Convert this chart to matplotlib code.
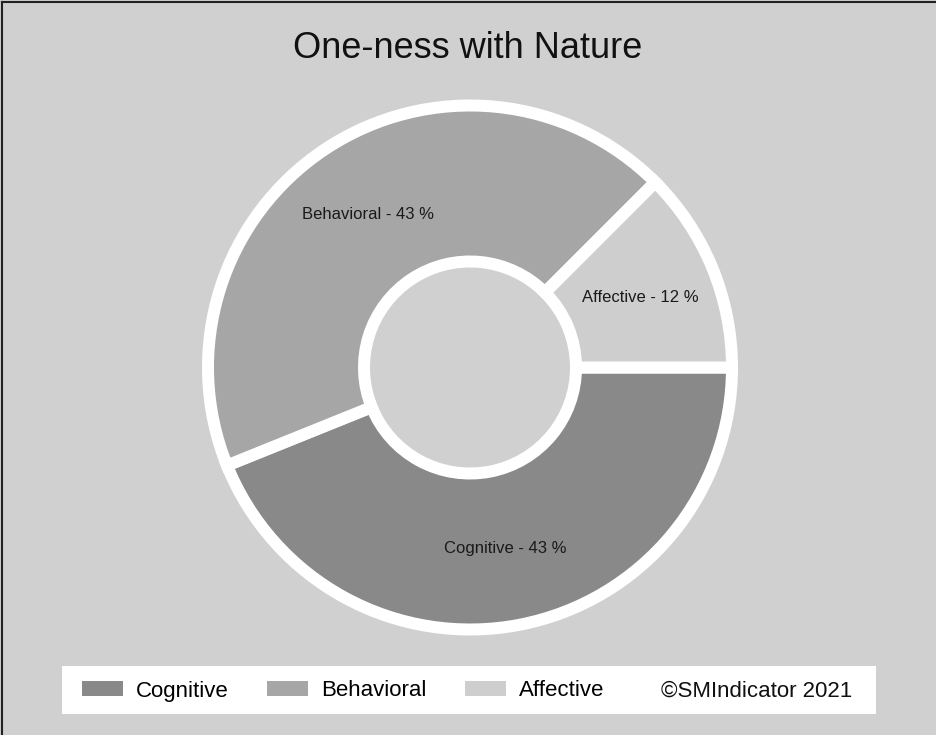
import numpy as np
import matplotlib
matplotlib.use("Agg")
import matplotlib.pyplot as plt
from matplotlib.patches import Patch, Rectangle
from matplotlib.lines import Line2D

plt.rcParams['font.family'] = ['Liberation Sans', 'DejaVu Sans']

# data
categories = ["Cognitive", "Behavioral", "Affective"]
shares = [43.9, 43.6, 12.5]
colors = ["#898989", "#a6a6a6", "#cecece"]
title = "One-ness with Nature"
credit = "\u00a9SMIndicator 2021"

BG = "#d0d0d0"
W, H = 936, 735
DPI = 100

fig = plt.figure(figsize=(W / DPI, H / DPI), dpi=DPI, facecolor=BG)

# axes in pixel-like units so the ring sits where it should
ax = fig.add_axes([0, 0, 1, 1])
ax.set_facecolor(BG)

cx, cy = 470, H - 367.5
R = 262
ring = 156
px = 72.0 / DPI  # points per pixel

labels = [f"{c} - {int(s)} %" for c, s in zip(categories, shares)]
wedges, texts = ax.pie(shares, colors=colors, labels=labels,
                       startangle=0, counterclock=False,
                       center=(cx, cy), radius=R,
                       labeldistance=(R - ring / 2) / R,
                       wedgeprops=dict(width=ring, edgecolor="white", linewidth=12 * px),
                       textprops=dict(fontsize=12, color="#1a1a1a"))
for t in texts:
    t.set_ha("center")
    t.set_va("center")

ax.set_xlim(0, W)
ax.set_ylim(0, H)
ax.set_aspect("equal")
ax.axis("off")

fig.text(468 / W, 1 - 48 / H, title, ha="center", va="center", fontsize=26, color="#111111")

# legend strip
fig.patches.append(Rectangle((62 / W, 21 / H), 814 / W, 48 / H, transform=fig.transFigure,
                             facecolor="white", edgecolor="none", zorder=1))
handles = [Patch(facecolor=c, edgecolor="none") for c in colors]
leg = fig.legend(handles, categories, loc="center left", bbox_to_anchor=(82 / W, 44 / H),
                 ncol=3, frameon=False, fontsize=16, borderpad=0, borderaxespad=0,
                 handlelength=1.85, handleheight=0.68, handletextpad=0.58, columnspacing=1.72)
leg.set_zorder(2)
fig.text(661 / W, 44 / H, credit, ha="left", va="center", fontsize=16, color="#111111", zorder=3)

# dark edge on top and left
fig.add_artist(Line2D([2 / W, 2 / W], [0, 1 - 2 / H], transform=fig.transFigure, color="#222222", lw=1.5))
fig.add_artist(Line2D([2 / W, 1], [1 - 2 / H, 1 - 2 / H], transform=fig.transFigure, color="#222222", lw=1.5))

fig.savefig("out.png", dpi=DPI, facecolor=BG)
